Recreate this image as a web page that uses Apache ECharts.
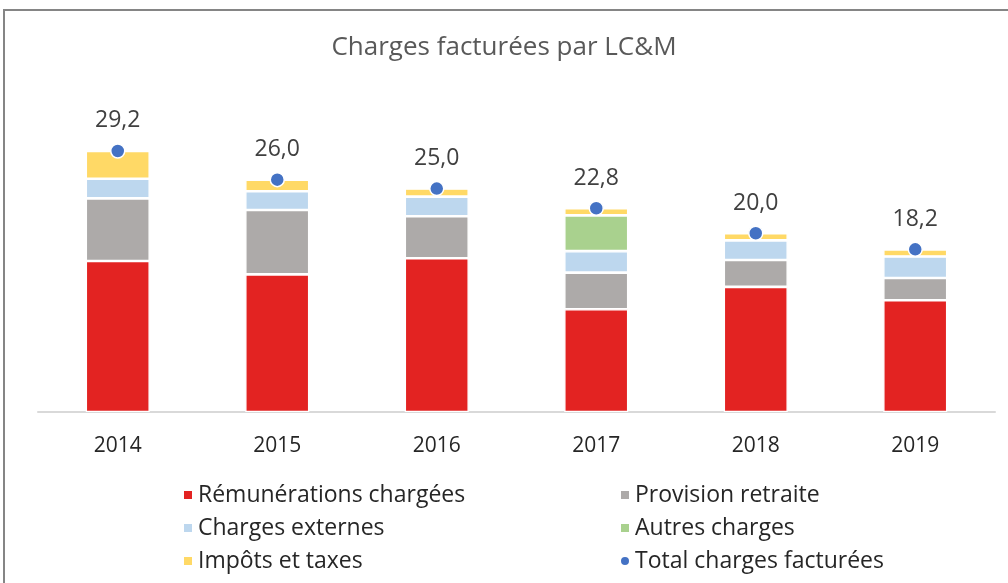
<!DOCTYPE html>
<html>
<head>
<meta charset="utf-8">
<script src="https://cdn.jsdelivr.net/npm/echarts@6/dist/echarts.min.js"></script>
<style>
  html, body { margin: 0; padding: 0; background: #fff; }
  #chart { width: 1008px; height: 583px; }
</style>
</head>
<body>
<div id="chart"></div>
<script>
// valeurs (M€)
const years = ['2014', '2015', '2016', '2017', '2018', '2019']
const remunerations = [16.9, 15.4, 17.2, 11.5, 14.0, 12.5]
const provision = [7.0, 7.2, 4.7, 4.1, 3.0, 2.5]
const externes = [2.2, 2.1, 2.2, 2.4, 2.2, 2.4]
const autres = [null, null, null, 4.0, null, null]
const impots = [3.1, 1.3, 0.9, 0.8, 0.8, 0.8]
const totals = [29.2, 26.0, 25.0, 22.8, 20.0, 18.2]

const font = 'Open Sans'
const chart = echarts.init(document.getElementById('chart'))

let barSerie = (name, data, color) => ({
  name: name,
  type: 'bar',
  stack: 'total',
  data: data,
  barWidth: 64,
  itemStyle: { color: color, borderColor: '#fff', borderWidth: 1.3 }
})

let legendCol = (left, items) => ({
  orient: 'vertical',
  left: left,
  top: 483,
  padding: 0,
  itemGap: 9,
  itemWidth: 10,
  itemHeight: 10,
  textStyle: { fontFamily: font, fontSize: 23, color: '#262626', lineHeight: 24 },
  data: items
})

chart.setOption({
  animation: false,
  textStyle: { fontFamily: font },
  title: {
    text: 'Charges facturées par LC&M',
    left: 'center',
    top: 30,
    textStyle: { fontFamily: font, fontSize: 26, fontWeight: 'normal', color: '#595959' }
  },
  graphic: [{
    type: 'rect',
    shape: { x: 4, y: 10, width: 1020, height: 600 },
    style: { fill: 'none', stroke: '#858585', lineWidth: 2 },
    silent: true
  }],
  legend: [
    legendCol(182, [
      { name: 'Rémunérations chargées', icon: 'rect' },
      { name: 'Charges externes', icon: 'rect' },
      { name: 'Impôts et taxes', icon: 'rect' }
    ]),
    legendCol(619, [
      { name: 'Provision retraite', icon: 'rect' },
      { name: 'Autres charges', icon: 'rect' },
      { name: 'Total charges facturées', icon: 'circle' }
    ])
  ],
  grid: { left: 38, right: 13, top: 126, bottom: 171 },
  xAxis: {
    type: 'category',
    data: years,
    axisLine: { lineStyle: { color: '#d9d9d9', width: 2 } },
    axisTick: { show: false },
    axisLabel: { fontSize: 21, color: '#262626', margin: 24 }
  },
  yAxis: {
    type: 'value',
    min: 0,
    max: 32,
    show: false,
    splitLine: { show: false }
  },
  series: [
    barSerie('Rémunérations chargées', remunerations, '#E32322'),
    barSerie('Provision retraite', provision, '#ADAAA9'),
    barSerie('Charges externes', externes, '#BDD7EE'),
    barSerie('Autres charges', autres, '#A9D18E'),
    barSerie('Impôts et taxes', impots, '#FFD966'),
    {
      name: 'Total charges facturées',
      type: 'scatter',
      data: totals,
      symbolSize: 14,
      z: 5,
      itemStyle: { color: '#4472C4', opacity: 1, borderColor: '#fff', borderWidth: 1.5 },
      label: {
        show: true,
        position: 'top',
        distance: 11,
        fontSize: 23,
        color: '#404040',
        formatter: p => p.value.toFixed(1).replace('.', ',')
      }
    }
  ]
})
</script>
</body>
</html>
